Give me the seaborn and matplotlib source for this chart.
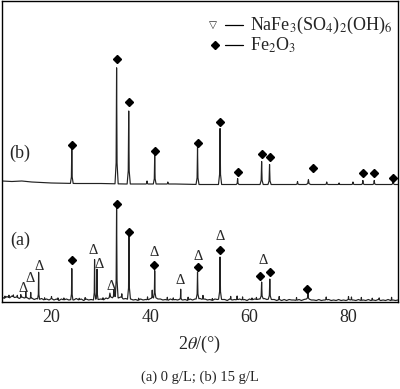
import numpy as np
import matplotlib
matplotlib.use("Agg")
import matplotlib.pyplot as plt
import seaborn as sns

# ---------------- data ----------------
# pattern (a): 0 g/L -- baseline level every 0.5 deg from 10 deg
a_base_y = [5, 3.5, 5.5, 4, 6, 4.5, 5, 3.5, 5, 4, 4.5, 3, 4, 2.5, 3.5, 2.5, 3.5, 2, 3, 2,
            3.5, 2, 3, 1.5, 3, 2, 3, 2, 2.5, 2, 3.5, 2, 3, 1.5, 3, 2, 2.5, 2, 3, 2.5,
            3, 2, 4, 3, 4.5, 4, 6, 4, 5, 3, 3.5, 2.5, 3, 2, 2.5, 1.5, 3, 2, 2.5, 2,
            3.5, 4, 4.5, 3, 3, 2, 2.5, 1.5, 3, 2, 2.5, 2, 3, 2, 2.5, 1.5, 3, 2, 3, 3,
            3.5, 2.5, 3, 2, 2.5, 1.5, 3, 2.5, 3, 2.5, 2.5, 1.5, 3, 2, 2.5, 2, 3, 2, 2.5, 1.5,
            3, 2, 3, 2.5, 3, 3, 3.5, 2.5, 3, 2.5, 2.5, 1.5, 2.5, 1.5, 2.5, 1.5, 2.5, 2, 2, 1.5,
            2.5, 1.5, 2.5, 3, 3, 2, 2, 1.5, 2.5, 1.5, 2, 2, 2.5, 1.5, 2, 1.5, 2.5, 1.5, 2, 1.5,
            2.5, 2, 2, 1.5, 2.5, 1.5, 2, 1.5, 2.5, 1.5, 2, 1.5, 2.5, 1.5, 2, 1.5, 2.5, 1.5, 2, 1.5,
            2]
a_peak_pos = [10.6, 11.4, 12.3, 13.1, 13.8, 14.8, 15.8, 17.4, 18.6, 20.0, 21.3, 22.5, 24.1,
              25.6, 26.8, 28.7, 29.2, 30.4, 31.8, 32.6, 33.15, 34.2, 35.65, 37.6, 39.4, 40.35,
              40.85, 43.4, 44.6, 46.1, 47.6, 49.5, 50.6, 52.5, 54.05, 56.2, 57.5, 58.6, 60.5,
              61.4, 62.45, 64.1, 66.0, 69.5, 71.8, 75.5, 80.0, 80.6, 82.6, 84.8, 86.2, 88.7]
a_peak_h = [2, 2.5, 2, 2, 3, 6, 6, 27, 2, 2, 2, 2, 31,
            1.5, 2, 40, 30, 2, 5, 8, 92, 4, 63, 2, 3, 8,
            27, 3, 2, 10, 3, 27, 4, 2, 42, 3, 4, 3, 2,
            2, 17, 20, 3, 3, 6, 3, 3, 3, 3, 2, 2, 3]
a_peak_w = [0.15, 0.15, 0.15, 0.15, 0.15, 0.15, 0.15, 0.2, 0.15, 0.15, 0.15, 0.15, 0.22,
            0.15, 0.15, 0.22, 0.2, 0.15, 0.45, 0.3, 0.3, 0.2, 0.3, 0.15, 0.2, 0.2,
            0.24, 0.2, 0.15, 0.15, 0.15, 0.28, 0.2, 0.15, 0.3, 0.15, 0.2, 0.15, 0.15,
            0.15, 0.32, 0.3, 0.15, 0.2, 0.3, 0.2, 0.15, 0.15, 0.15, 0.15, 0.15, 0.15]

# pattern (b): 15 g/L
b_base_x = [10, 12, 14, 16, 18, 20, 25, 30, 35, 40, 45, 50, 55, 60, 65, 70, 75, 80, 85, 90]
b_base_y = [121, 120.5, 121, 120, 119.5, 119, 118.5, 118.5, 118, 118, 118, 117.5, 117.5,
            117.5, 117.5, 117.5, 117.5, 117.5, 117.5, 117.5]
b_peak_pos = [24.1, 33.15, 35.6, 39.3, 40.85, 43.5, 49.5, 54.05, 57.6, 62.45, 64.05, 69.7,
              71.9, 75.6, 78.1, 80.9, 82.9, 85.2, 89.0]
b_peak_h = [35, 116, 73, 3, 29, 2, 37, 56, 6, 23, 20, 3, 5, 2.5, 1.5, 2.5, 4, 4, 4]
b_peak_w = [0.28, 0.32, 0.32, 0.2, 0.28, 0.2, 0.3, 0.32, 0.28, 0.32, 0.32, 0.3, 0.45, 0.3,
            0.25, 0.3, 0.3, 0.3, 0.3]

# phase markers: (2theta, intensity level of the marker)
b_fe_x = [24.1, 33.15, 35.6, 40.85, 49.5, 54.05, 57.6, 62.45, 64.05, 72.8, 82.9, 85.2, 89.0]
b_fe_y = [157, 243, 200, 151, 159, 180, 130, 148, 145, 134, 129, 129, 124]
a_fe_x = [24.1, 33.2, 35.7, 40.8, 49.5, 54.0, 62.1, 64.1, 71.7]
a_fe_y = [42, 98, 70, 37, 35, 52, 26, 30, 13]
a_na_x = [14.3, 15.6, 17.5, 28.5, 29.6, 32.0, 40.7, 46.0, 49.6, 54.0, 62.7]
a_na_y = [13, 24, 36, 51, 37, 16, 50, 22, 46, 65, 42]

x_ticks = [20, 40, 60, 80]
legend_labels = [r"NaFe$_3$(SO$_4$)$_2$(OH)$_6$", r"Fe$_2$O$_3$"]
caption = "(a) 0 g/L; (b) 15 g/L"

a_base_x = [10 + 0.5 * i for i in range(len(a_base_y))]


def build(base_x, base_y, pos, h, w):
    base_x = np.asarray(base_x, float)
    base_y = np.asarray(base_y, float)
    keep = np.ones(len(base_x), bool)
    for p, ww in zip(pos, w):
        keep &= ~((base_x > p - ww) & (base_x < p + ww))
    xs = list(base_x[keep])
    ys = list(base_y[keep])
    for p, hh, ww in zip(pos, h, w):
        for xv, frac in ((p - ww, 0.0), (p - 0.3 * ww, 0.18), (p, 1.0),
                         (p + 0.3 * ww, 0.18), (p + ww, 0.0)):
            b = np.interp(xv, base_x, base_y)
            xs.append(xv)
            ys.append(b + frac * hh)
    order = np.argsort(xs, kind="stable")
    return np.asarray(xs)[order], np.asarray(ys)[order]


sns.set_style("white")
plt.rcParams["font.family"] = ["Liberation Serif", "DejaVu Sans"]
plt.rcParams["mathtext.fontset"] = "stix"

fig = plt.figure(figsize=(4.0, 3.89), dpi=100)
ax = fig.add_axes([2 / 400, 1 - 302 / 389, 396 / 400, 301 / 389])

ax_x, ax_y = build(a_base_x, a_base_y, a_peak_pos, a_peak_h, a_peak_w)
bx, by = build(b_base_x, b_base_y, b_peak_pos, b_peak_h, b_peak_w)
sns.lineplot(x=ax_x, y=ax_y, ax=ax, color="#222222", lw=0.85, estimator=None, sort=False)
sns.lineplot(x=bx, y=by, ax=ax, color="#222222", lw=0.85, estimator=None, sort=False)

# markers
ax.plot(b_fe_x, b_fe_y, ls="none", marker="D", ms=3.6, color="black")
ax.plot(a_fe_x, a_fe_y, ls="none", marker="D", ms=3.6, color="black")
for xv, yv in zip(a_na_x, a_na_y):
    ax.text(xv, yv, "Δ", ha="center", va="center", fontsize=10.5)

ax.text(0.045, (302 - 153) / 301, "(b)", transform=ax.transAxes, ha="center",
        va="center", fontsize=13)
ax.text(0.045, (302 - 240) / 301, "(a)", transform=ax.transAxes, ha="center",
        va="center", fontsize=13)

# legend
ly1 = (302 - 25) / 301
ly2 = (302 - 45) / 301
ax.text(0.533, ly1, "▽", transform=ax.transAxes, ha="center", va="center",
        fontsize=7.5, family="DejaVu Sans")
ax.plot([0.538], [ly2], transform=ax.transAxes, marker="D", ms=3.6, color="black")
for yy, lab in zip((ly1, ly2), legend_labels):
    ax.plot([0.563, 0.608], [yy, yy], transform=ax.transAxes, color="black", lw=0.9)
    ax.text(0.625, yy, lab, transform=ax.transAxes, ha="left", va="center", fontsize=13)

ax.set_xlim(10, 90)
ax.set_ylim(0, 301)
ax.set_xticks(x_ticks)
ax.set_yticks([])
ax.tick_params(axis="x", length=0, pad=5, labelsize=13)
ax.set_xlabel(r"2$\it{\theta}$/(°)", fontsize=13, labelpad=6)
for s in ax.spines.values():
    s.set_visible(True)
    s.set_color("black")
    s.set_linewidth(1.0)

fig.text(0.5, 1 - 377 / 389, caption, ha="center", va="center", fontsize=10.5)

fig.savefig("out.png", dpi=100)
